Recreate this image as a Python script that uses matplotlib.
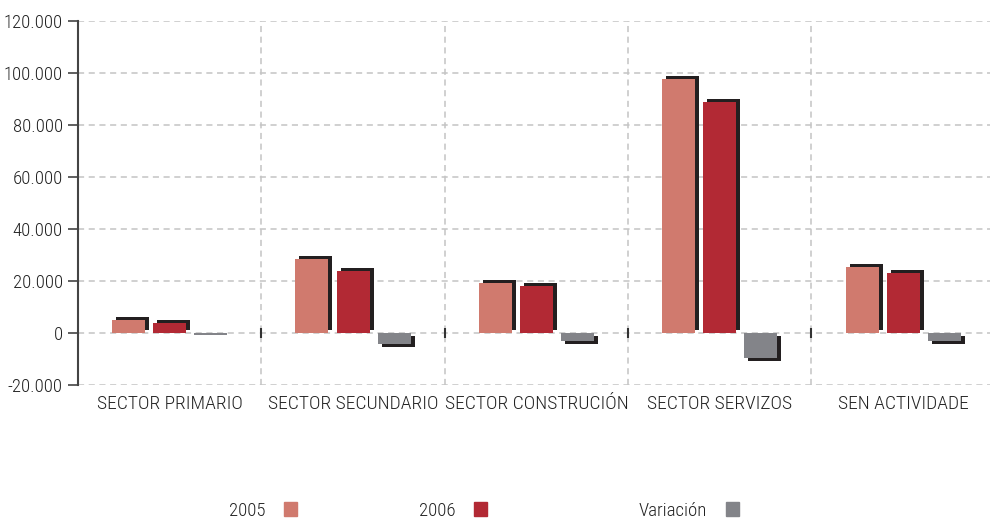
import numpy as np
import matplotlib
matplotlib.use("Agg")
import matplotlib.pyplot as plt
from matplotlib.ticker import FuncFormatter, FixedLocator
from matplotlib.patches import Patch

# --- data ---
sectors = ["SECTOR PRIMARIO", "SECTOR SECUNDARIO", "SECTOR CONSTRUCIÓN",
           "SECTOR SERVIZOS", "SEN ACTIVIDADE"]
v2005 = [5000, 28400, 19200, 97700, 25500]
v2006 = [3900, 23900, 18200, 88900, 23100]
variacion = [-900, -4100, -3100, -9600, -2900]

series_names = ["2005", "2006", "Variación"]
colors = ["#D07A6E", "#B22934", "#838489"]
shadow_col = "#231F20"
text_col = "#222222"

plt.rcParams['font.family'] = ['Roboto Condensed', 'Archivo Narrow', 'DejaVu Sans']
plt.rcParams['font.weight'] = 'light'

fig = plt.figure(figsize=(9.9, 5.21), dpi=100)
ax = fig.add_axes([0.0788, 0.261, 0.926, 0.699])

x = np.arange(len(sectors))
width = 0.18
step = 0.224
dx = 0.022      # shadow offset (horizontal, in category units)
dy = 1150       # shadow offset (vertical, in data units)

for i, (vals, col) in enumerate(zip([v2005, v2006, variacion], colors)):
    xs = x + (i - 1) * step
    vals = np.array(vals)
    sgn = np.sign(vals)
    # drop shadow (tiny bars show none)
    big = np.abs(vals) > dy
    ax.bar(xs[big] + dx, vals[big], width=width, bottom=sgn[big] * dy,
           color=shadow_col, zorder=2, linewidth=0)
    ax.bar(xs, vals, width=width, color=col, zorder=3, linewidth=0)

ax.set_xlim(-0.5, 4.5)
ax.set_ylim(-20000, 120000)
ax.set_yticks(np.arange(-20000, 120001, 20000))
ax.yaxis.set_major_formatter(FuncFormatter(
    lambda v, p: f"{int(v):,}".replace(",", ".")))

ax.set_xticks(x)
ax.set_xticklabels(sectors)
ax.xaxis.set_minor_locator(FixedLocator([0.5, 1.5, 2.5, 3.5, 4.5]))

grid_kw = dict(color="#C4C4C4", linestyle=(0, (4, 3)), linewidth=1.1)
ax.yaxis.grid(True, which="major", **grid_kw)
ax.xaxis.grid(True, which="minor", **grid_kw)
ax.xaxis.grid(False, which="major")
ax.set_axisbelow(True)

# small marks on the zero line at category boundaries
ax.plot([0.5, 1.5, 2.5, 3.5], [0, 0, 0, 0], ls="none", marker="|",
        ms=7, mew=1.5, color="#333333", zorder=4)

for s in ["top", "right", "bottom"]:
    ax.spines[s].set_visible(False)
ax.spines["left"].set_color("#444444")
ax.spines["left"].set_linewidth(1.5)

ax.tick_params(axis="y", direction="out", length=7, width=1.2,
               color="#444444", labelsize=13.5, labelcolor=text_col, pad=4)
ax.tick_params(axis="x", which="both", length=0, labelsize=14,
               labelcolor=text_col, pad=7)

# legend entries: text then square
legend_pos = [0.226, 0.418, 0.64]
for name, col, lx in zip(series_names, colors, legend_pos):
    fig.legend(handles=[Patch(color=col)], labels=[name], loc="center left",
               bbox_to_anchor=(lx - 0.012, 0.02), frameon=False,
               markerfirst=False, fontsize=13.5, handlelength=0.7,
               handleheight=0.7, handletextpad=1.0, labelcolor=text_col)

fig.savefig("out.png", dpi=100)
